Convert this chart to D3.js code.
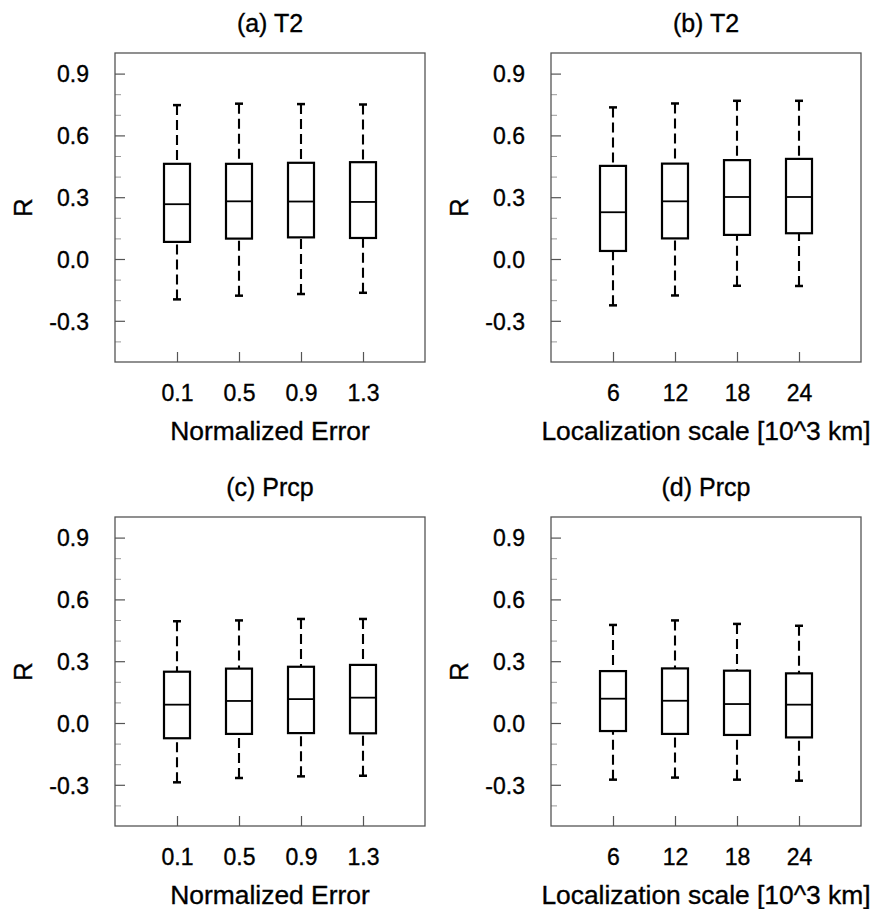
<!DOCTYPE html>
<html>
<head>
<meta charset="utf-8">
<script src="https://cdn.jsdelivr.net/npm/d3@7"></script>
<style>
  html, body { margin: 0; padding: 0; background: #fff; }
  svg { display: block; }
  text { font-family: "Liberation Sans", Arial, Helvetica, sans-serif; fill: #000; }
</style>
</head>
<body>
<svg id="chart" width="874" height="909"></svg>
<script>
// ---------- data ----------
const catsNormErr = ["0.1", "0.5", "0.9", "1.3"];
const catsLocScale = ["6", "12", "18", "24"];
const yMajorTicks = [-0.3, 0.0, 0.3, 0.6, 0.9];
const yMinorTicks = [-0.4, -0.2, -0.1, 0.1, 0.2, 0.4, 0.5, 0.7, 0.8];

// panel (a) T2 vs normalized error
const aMax = [0.747, 0.754, 0.752, 0.750];
const aQ3  = [0.462, 0.462, 0.467, 0.470];
const aMed = [0.266, 0.280, 0.279, 0.277];
const aQ1  = [0.083, 0.099, 0.105, 0.102];
const aMin = [-0.196, -0.178, -0.170, -0.164];

// panel (b) T2 vs localization scale
const bMax = [0.736, 0.755, 0.768, 0.768];
const bQ3  = [0.452, 0.463, 0.480, 0.486];
const bMed = [0.227, 0.280, 0.301, 0.301];
const bQ1  = [0.039, 0.100, 0.117, 0.125];
const bMin = [-0.225, -0.177, -0.130, -0.131];

// panel (c) Prcp vs normalized error
const cMax = [0.494, 0.498, 0.505, 0.505];
const cQ3  = [0.249, 0.264, 0.273, 0.282];
const cMed = [0.089, 0.107, 0.116, 0.123];
const cQ1  = [-0.074, -0.053, -0.049, -0.050];
const cMin = [-0.288, -0.267, -0.259, -0.256];

// panel (d) Prcp vs localization scale
const dMax = [0.476, 0.498, 0.481, 0.472];
const dQ3  = [0.252, 0.265, 0.254, 0.241];
const dMed = [0.118, 0.108, 0.092, 0.089];
const dQ1  = [-0.039, -0.053, -0.058, -0.070];
const dMin = [-0.275, -0.265, -0.275, -0.280];

const panels = [
  { title: "(a) T2",   xlabel: "Normalized Error",             cats: catsNormErr,  min: aMin, q1: aQ1, med: aMed, q3: aQ3, max: aMax, left: 115, top: 53 },
  { title: "(b) T2",   xlabel: "Localization scale [10^3 km]", cats: catsLocScale, min: bMin, q1: bQ1, med: bMed, q3: bQ3, max: bMax, left: 551, top: 53 },
  { title: "(c) Prcp", xlabel: "Normalized Error",             cats: catsNormErr,  min: cMin, q1: cQ1, med: cMed, q3: cQ3, max: cMax, left: 115, top: 517 },
  { title: "(d) Prcp", xlabel: "Localization scale [10^3 km]", cats: catsLocScale, min: dMin, q1: dQ1, med: dMed, q3: dQ3, max: dMax, left: 551, top: 517 }
];

// ---------- drawing ----------
const W = 310, H = 309;
const svg = d3.select("#chart");
const fmt = d => (Math.abs(d) < 1e-9 ? 0 : d).toFixed(1);
const FONT = '"Liberation Sans", Arial, sans-serif';
const TXT_STROKE = 0.35;

panels.forEach(p => {
  const g = svg.append("g").attr("transform", `translate(${p.left},${p.top})`);
  const x = d3.scaleLinear().domain([0, 5]).range([0, W]);
  const y = d3.scaleLinear().domain([-0.5, 1.0]).range([H, 0]);

  // minor y ticks
  const minor = g.append("g").call(d3.axisLeft(y).tickValues(yMinorTicks).tickSize(-6).tickFormat(""));
  minor.select(".domain").remove();
  minor.selectAll("line").attr("stroke", "#999").attr("stroke-width", 1);

  // major y ticks
  const major = g.append("g").call(d3.axisLeft(y).tickValues(yMajorTicks).tickSize(-10).tickPadding(26).tickFormat(fmt));
  major.select(".domain").remove();
  major.selectAll("line").attr("stroke", "#555").attr("stroke-width", 1.2);
  major.selectAll("text").attr("font-size", 23).attr("fill", "#000")
    .attr("stroke", "#000").attr("stroke-width", TXT_STROKE)
    .attr("font-family", FONT).attr("dy", "0.36em");

  // bottom ticks
  const bx = g.append("g").attr("transform", `translate(0,${H})`)
    .call(d3.axisBottom(x).tickValues([1, 2, 3, 4]).tickSize(-10).tickFormat((d, i) => p.cats[i]));
  bx.select(".domain").remove();
  bx.selectAll("line").attr("stroke", "#555").attr("stroke-width", 1.2);
  bx.selectAll("text").attr("font-size", 23).attr("fill", "#000")
    .attr("stroke", "#000").attr("stroke-width", TXT_STROKE)
    .attr("font-family", FONT).attr("y", 39).attr("dy", null);

  // frame
  g.append("rect").attr("x", 0).attr("y", 0).attr("width", W).attr("height", H)
    .attr("fill", "none").attr("stroke", "#555").attr("stroke-width", 1.3);

  const idx = d3.range(p.cats.length);
  const bw = 26, cw = 8;
  const bg = g.append("g");

  idx.forEach(i => {
    const cx = x(i + 1);
    // whiskers (dashed), drawn from cap toward box
    bg.append("line").attr("x1", cx).attr("x2", cx).attr("y1", y(p.max[i])).attr("y2", y(p.q3[i]))
      .attr("stroke", "#000").attr("stroke-width", 2.1).attr("stroke-dasharray", "10,5");
    bg.append("line").attr("x1", cx).attr("x2", cx).attr("y1", y(p.min[i])).attr("y2", y(p.q1[i]))
      .attr("stroke", "#000").attr("stroke-width", 2.1).attr("stroke-dasharray", "10,5");
    // caps
    bg.append("line").attr("x1", cx - cw / 2).attr("x2", cx + cw / 2).attr("y1", y(p.max[i])).attr("y2", y(p.max[i]))
      .attr("stroke", "#000").attr("stroke-width", 2.5);
    bg.append("line").attr("x1", cx - cw / 2).attr("x2", cx + cw / 2).attr("y1", y(p.min[i])).attr("y2", y(p.min[i]))
      .attr("stroke", "#000").attr("stroke-width", 2.5);
    // box
    bg.append("rect").attr("x", cx - bw / 2).attr("width", bw)
      .attr("y", y(p.q3[i])).attr("height", y(p.q1[i]) - y(p.q3[i]))
      .attr("fill", "#fff").attr("stroke", "#000").attr("stroke-width", 2.2);
    // median
    bg.append("line").attr("x1", cx - bw / 2).attr("x2", cx + bw / 2).attr("y1", y(p.med[i])).attr("y2", y(p.med[i]))
      .attr("stroke", "#000").attr("stroke-width", 1.8);
  });

  // title
  g.append("text").attr("x", W / 2).attr("y", -21).attr("text-anchor", "middle")
    .attr("stroke", "#000").attr("stroke-width", TXT_STROKE)
    .attr("font-size", 25).text(p.title);
  // x label
  g.append("text").attr("x", W / 2).attr("y", H + 78).attr("text-anchor", "middle")
    .attr("stroke", "#000").attr("stroke-width", TXT_STROKE)
    .attr("font-size", 26.4).text(p.xlabel);
  // y label
  g.append("text").attr("transform", `translate(${-92 + 9},${H / 2}) rotate(-90)`)
    .attr("stroke", "#000").attr("stroke-width", TXT_STROKE)
    .attr("text-anchor", "middle").attr("font-size", 26).text("R");
});
</script>
</body>
</html>
